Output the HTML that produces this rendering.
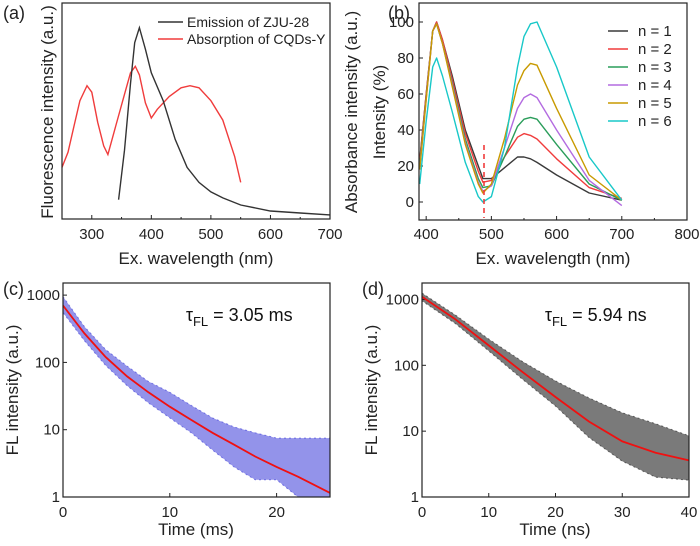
<!DOCTYPE html>
<html><head><meta charset="utf-8"><style>
html,body{margin:0;padding:0;background:#fff;}
svg{display:block;font-family:"Liberation Sans",sans-serif;}
</style></head><body>
<svg id="fig" width="700" height="546" viewBox="0 0 700 546" xmlns="http://www.w3.org/2000/svg"></svg>
<script>
// ---- Panel (a) data ----
const aEmisX=[345,355,365,372,380,390,400,420,440,460,480,500,520,550,600,650,700];
const aEmisY=[9,32,63,82,89,79,68,55,37,24,17,12.6,9.8,6.5,3.7,2.8,1.9];
const aAbsX=[250,260,270,280,292,300,310,320,327,340,355,365,373,380,390,400,410,430,450,465,480,500,520,540,550];
const aAbsY=[24,31,43,55,62,59,45,34,30,43,58,68,71,67,54,47,51,57,61,62,61,55,46,29,17];
const aTicks=[300,400,500,600,700];
// ---- Panel (b) data ----
const bX=[390,400,410,416,425,440,460,480,487,500,520,540,550,560,570,600,650,700];
const bN1=[23,60,95,100,90,70,40,20,13,13,19,25,25,24,22,15,5,1];
const bN2=[22,60,95,100,90,68,38,17,11,12,25,36,38,37,35,24,8,2];
const bN3=[20,58,95,99,88,66,35,13,8,9,25,42,46,47,46,32,10,1];
const bN4=[18,57,95,99,88,65,33,11,6,9,30,52,58,60,58,40,12,-2];
const bN5=[18,57,95,99,88,64,32,10,5,10,35,65,73,77,76,52,15,1];
const bN6=[10,45,75,80,70,50,22,3,0,3,30,75,92,99,100,75,25,1];
const bLabels=["n = 1","n = 2","n = 3","n = 4","n = 5","n = 6"];
const bXTicks=[400,500,600,700,800];
const bYTicks=[0,20,40,60,80,100];
// ---- Panel (c) data ----
const cT=[0,2,4,6,8,10,12,14,16,18,20,22,25];
const cFit=[700,270,120,62,36,22,14,9,6,4,2.8,2,1.15];
const cUpper=[950,340,155,88,52,36,23,15,11,9,7.5,7.5,7.5];
const cLower=[550,210,90,45,25,15,9,5,2.8,1.8,1.8,1,1];
const cXTicks=[0,10,20];
// ---- Panel (d) data ----
const dT=[0,5,10,15,20,25,30,35,40];
const dFit=[1100,500,200,80,33,14,7,4.7,3.6];
const dUpper=[1250,580,250,115,58,32,19,13,8.5];
const dLower=[950,430,165,62,24,8,3.5,2,1.8];
const dXTicks=[0,10,20,30,40];
const logTicks=[1,10,100,1000];

const svg=document.getElementById('fig');
const NS='http://www.w3.org/2000/svg';
function mk(tag,attrs,parent){const e=document.createElementNS(NS,tag);for(const k in attrs)e.setAttribute(k,attrs[k]);(parent||svg).appendChild(e);return e;}
function txt(s,x,y,size,anchor,parent,rot){const t=mk('text',{x:x,y:y,'font-size':size,'text-anchor':anchor||'middle',fill:'#222'},parent);if(rot)t.setAttribute('transform','rotate(-90 '+x+' '+y+')');t.textContent=s;return t;}
function lin(d0,d1,r0,r1){return v=>r0+(v-d0)/(d1-d0)*(r1-r0);}
function lg(d0,d1,r0,r1){return v=>r0+(Math.log10(v)-Math.log10(d0))/(Math.log10(d1)-Math.log10(d0))*(r1-r0);}
function path(xs,ys,sx,sy){return xs.map((x,i)=>(i?'L':'M')+sx(x).toFixed(1)+' '+sy(ys[i]).toFixed(1)).join(' ');}
function frame(g,l,t,r,b){const f=mk('rect',{x:l,y:t,width:r-l,height:b-t,fill:'none',stroke:'#222','stroke-width':1.2},g);}

// ===== Panel A =====
{const g=mk('g',{});
const L=62,R=330,T=3,B=219;const sx=lin(250,700,L,R),sy=lin(0,100,B,4);
aTicks.forEach(v=>{mk('line',{x1:sx(v),x2:sx(v),y1:B,y2:B-4,stroke:'#222'},g);txt(String(v),sx(v),239,15,'middle',g);});
[350,450,550,650].forEach(v=>mk('line',{x1:sx(v),x2:sx(v),y1:B,y2:B-2,stroke:'#222'},g));
const pa=mk('path',{d:path(aAbsX,aAbsY,sx,sy),fill:'none',stroke:'#f03c3c','stroke-width':1.4},g);
const pe=mk('path',{d:path(aEmisX,aEmisY,sx,sy),fill:'none',stroke:'#333','stroke-width':1.4},g);
frame(g,L,T,R,B);
mk('line',{x1:158,x2:183,y1:22,y2:22,stroke:'#333','stroke-width':1.5},g);txt('Emission of ZJU-28',187,27,14,'start',g);
mk('line',{x1:158,x2:183,y1:39,y2:39,stroke:'#f03c3c','stroke-width':1.5},g);txt('Absorption of CQDs-Y',187,44,14,'start',g);
txt('Ex. wavelength (nm)',196,264,17,'middle',g);
txt('Fluorescence intensity (a.u.)',53,112,17,'middle',g,true);
txt('(a)',3,19,18,'start',g);
txt('Absorbance intensity (a.u.)',357,112,17,'middle',g,true);
}
// ===== Panel B =====
{const g=mk('g',{});
const L=419,R=687,T=3,B=220;const sx=lin(389,800,L,R),sy=lin(-10,110,B,T+1);
mk('rect',{x:L,y:T,width:R-L,height:B-T,fill:'#fff'},g);
bXTicks.forEach(v=>{mk('line',{x1:sx(v),x2:sx(v),y1:B,y2:B-4,stroke:'#222'},g);txt(String(v),sx(v),239,15,'middle',g);});
[450,550,650,750].forEach(v=>mk('line',{x1:sx(v),x2:sx(v),y1:B,y2:B-2,stroke:'#222'},g));
bYTicks.forEach(v=>{mk('line',{x1:L,x2:L+4,y1:sy(v),y2:sy(v),stroke:'#222'},g);txt(String(v),L-5,sy(v)+5,15,'end',g);});
const series=[bN1,bN2,bN3,bN4,bN5,bN6];const cols=['#3a3a3a','#f03c3c','#2a9d5a','#b36be0','#c89a00','#18c8c8'];
series.forEach((s,i)=>{const p=mk('path',{d:path(bX,s,sx,sy),fill:'none',stroke:cols[i],'stroke-width':1.4,'stroke-linejoin':'round'},g);


const ly=31+i*18;mk('line',{x1:608,x2:628,y1:ly,y2:ly,stroke:cols[i],'stroke-width':1.6},g);
const t=txt(bLabels[i],638,ly+5,15,'start',g);

});
const dl=mk('line',{x1:484,x2:484,y1:145,y2:218,stroke:'#f03c3c','stroke-width':1.6,'stroke-dasharray':'5,4'},g);
frame(g,L,T,R,B);
txt('Ex. wavelength (nm)',553,264,17,'middle',g);
txt('Intensity (%)',385,112,17,'middle',g,true);
txt('(b)',388,19,18,'start',g);
}
// ===== Decay panels =====
function decay(name,label,L,R,T,B,xmax,topLog,ts,fit,up,lo,xt,dot,op,tau,unit,lblX,titleX){
const g=mk('g',{});
const sx=lin(0,xmax,L,R),sy=lg(1,Math.pow(10,topLog),B,T);
xt.forEach(v=>{mk('line',{x1:sx(v),x2:sx(v),y1:B,y2:B-4,stroke:'#222'},g);txt(String(v),sx(v),517,15,'middle',g);});
logTicks.forEach(v=>{mk('line',{x1:L,x2:L+4,y1:sy(v),y2:sy(v),stroke:'#222'},g);txt(String(v),L-3,sy(v)+5,15,'end',g);});
const band=ts.map((t,i)=>sx(t).toFixed(1)+','+sy(up[i]).toFixed(1)).concat(ts.slice().reverse().map((t,j)=>{const i=ts.length-1-j;return sx(t).toFixed(1)+','+sy(lo[i]).toFixed(1);})).join(' ');
const b=mk('polygon',{points:band,fill:dot,'fill-opacity':op,stroke:dot,'stroke-opacity':0.6,'stroke-width':1,'stroke-dasharray':'2,3'},g);
const f=mk('path',{d:path(ts,fit,sx,sy),fill:'none',stroke:'#f01010','stroke-width':1.8},g);
frame(g,L,T,R,B);
const tt=mk('text',{x:L+(R-L)*0.46,y:T+38,'font-size':18,fill:'#111'},g);
tt.innerHTML='τ<tspan font-size="13" dy="5">FL</tspan><tspan dy="-5"> = '+tau+' '+unit+'</tspan>';
txt('Time ('+unit+')',titleX,535,17,'middle',g);
txt('FL intensity (a.u.)',lblX,390,17,'middle',g,true);
txt(label,L-60,295,18,'start',g);
}
decay('panel-c','(c)',63,330,283,497,25,3.18,cT,cFit,cUpper,cLower,cXTicks,'#3a3ad8',0.55,'3.05','ms',18,196);
decay('panel-d','(d)',422,689,283,497,40,3.25,dT,dFit,dUpper,dLower,dXTicks,'#222',0.6,'5.94','ns',377,555);
</script>
</body></html>
